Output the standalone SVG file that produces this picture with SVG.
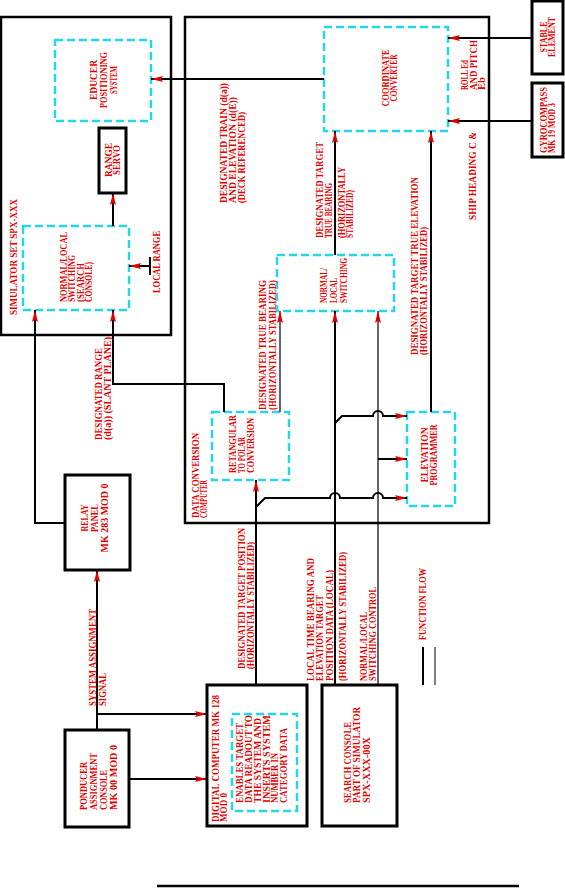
<svg xmlns="http://www.w3.org/2000/svg" width="565" height="895" viewBox="0 0 565 895">
<defs>
<style>
.t{font-family:"Liberation Serif","DejaVu Serif",serif;font-weight:bold;font-size:10px;fill:#e00000;}
.frame{fill:none;stroke:#000;stroke-width:2.5;}
.box{fill:none;stroke:#000;stroke-width:3;}
.dash{fill:none;stroke:#22d8e8;stroke-width:2.5;stroke-dasharray:8 4;}
.c{fill:none;stroke:#000;stroke-width:2;}
.ct{fill:none;stroke:#000;stroke-width:1.2;}
.ca{marker-end:url(#ah);}
</style>
<marker id="ah" viewBox="0 0 12 6" refX="12" refY="3" markerWidth="12" markerHeight="6" orient="auto" markerUnits="userSpaceOnUse">
<path d="M0,0 L12,3 L0,6 L2,3 z" fill="#e00000"/>
</marker>
</defs>

<g id="simulator-set">
<rect class="frame" x="1" y="17" width="170" height="318"/>
<text class="t" transform="translate(17,315) rotate(-90)" textLength="116" lengthAdjust="spacingAndGlyphs">SIMULATOR SET SPX-XXX</text>
</g>

<g id="data-conversion-computer">
<rect class="frame" x="185" y="17" width="304" height="506"/>
<text class="t" transform="translate(199,518) rotate(-90)"><tspan x="0" y="0" textLength="85" lengthAdjust="spacingAndGlyphs">DATA CONVERSION</tspan><tspan x="0" y="8" textLength="38" lengthAdjust="spacingAndGlyphs">COMPUTER</tspan></text>
</g>

<g id="eductor-positioning-system">
<rect class="dash" x="55" y="40" width="96" height="81"/>
<text class="t" text-anchor="middle" transform="translate(97,80) rotate(-90)"><tspan x="0" y="0" textLength="40" lengthAdjust="spacingAndGlyphs">EDUCER</tspan><tspan x="0" y="10" textLength="56" lengthAdjust="spacingAndGlyphs">POSITIONING</tspan><tspan x="0" y="20" textLength="28" lengthAdjust="spacingAndGlyphs">SYSTEM</tspan></text>
</g>

<g id="range-servo">
<rect class="box" x="99" y="128" width="27" height="65"/>
<text class="t" text-anchor="middle" transform="translate(112,160) rotate(-90)"><tspan x="0" y="0" textLength="34" lengthAdjust="spacingAndGlyphs">RANGE</tspan><tspan x="0" y="8" textLength="30" lengthAdjust="spacingAndGlyphs">SERVO</tspan></text>
</g>

<g id="normal-local-search-console">
<rect class="dash" x="23" y="226" width="106" height="84"/>
<text class="t" transform="translate(67,302) rotate(-90)"><tspan x="0" y="0" textLength="70" lengthAdjust="spacingAndGlyphs">NORMAL/LOCAL</tspan><tspan x="0" y="8" textLength="47" lengthAdjust="spacingAndGlyphs">SWITCHING</tspan><tspan x="0" y="16.5" textLength="39" lengthAdjust="spacingAndGlyphs">(SEARCH</tspan><tspan x="0" y="25" textLength="40" lengthAdjust="spacingAndGlyphs">CONSOLE)</tspan></text>
</g>

<g id="local-range">
<text class="t" transform="translate(160,293) rotate(-90)" textLength="62" lengthAdjust="spacingAndGlyphs">LOCAL RANGE</text>
</g>

<g id="coordinate-converter">
<rect class="dash" x="324" y="27" width="124" height="104"/>
<text class="t" text-anchor="middle" transform="translate(389,78) rotate(-90)"><tspan x="0" y="0" textLength="57" lengthAdjust="spacingAndGlyphs">COORDINATE</tspan><tspan x="0" y="8" textLength="47" lengthAdjust="spacingAndGlyphs">CONVERTER</tspan></text>
</g>

<g id="stable-element">
<rect class="box" x="532" y="1" width="31" height="73"/>
<text class="t" text-anchor="middle" transform="translate(547,37) rotate(-90)"><tspan x="0" y="0" textLength="31" lengthAdjust="spacingAndGlyphs">STABLE</tspan><tspan x="0" y="8" textLength="40" lengthAdjust="spacingAndGlyphs">ELEMENT</tspan></text>
</g>

<g id="gyrocompass">
<rect class="box" x="532" y="83" width="31" height="74"/>
<text class="t" transform="translate(547,153) rotate(-90)"><tspan x="0" y="0" textLength="66" lengthAdjust="spacingAndGlyphs">GYROCOMPASS</tspan><tspan x="0" y="8" textLength="50" lengthAdjust="spacingAndGlyphs">MK 19 MOD 3</tspan></text>
</g>

<g id="normal-local-switching">
<rect class="dash" x="277" y="255" width="117" height="56"/>
<text class="t" transform="translate(327,303) rotate(-90)"><tspan x="0" y="0" textLength="35" lengthAdjust="spacingAndGlyphs">NORMAL/</tspan><tspan x="0" y="10" textLength="25" lengthAdjust="spacingAndGlyphs">LOCAL</tspan><tspan x="0" y="20" textLength="45" lengthAdjust="spacingAndGlyphs">SWITCHING</tspan></text>
</g>

<g id="rectangular-to-polar">
<rect class="dash" x="212" y="412" width="77" height="68"/>
<text class="t" transform="translate(236,473) rotate(-90)"><tspan x="0" y="0" textLength="58" lengthAdjust="spacingAndGlyphs">RETANGULAR</tspan><tspan x="0" y="9" textLength="36" lengthAdjust="spacingAndGlyphs">TO POLAR</tspan><tspan x="0" y="18" textLength="55" lengthAdjust="spacingAndGlyphs">CONVERSION</tspan></text>
</g>

<g id="elevation-programmer">
<rect class="dash" x="407" y="412" width="48" height="94"/>
<text class="t" text-anchor="middle" transform="translate(428,455) rotate(-90)"><tspan x="0" y="0" textLength="55" lengthAdjust="spacingAndGlyphs">ELEVATION</tspan><tspan x="0" y="9" textLength="61" lengthAdjust="spacingAndGlyphs">PROGRAMMER</tspan></text>
</g>

<g id="relay-panel">
<rect class="box" x="65" y="475" width="65" height="95"/>
<text class="t" text-anchor="middle" transform="translate(88,518) rotate(-90)"><tspan x="0" y="0" textLength="27" lengthAdjust="spacingAndGlyphs">RELAY</tspan><tspan x="0" y="10" textLength="28" lengthAdjust="spacingAndGlyphs">PANEL</tspan><tspan x="0" y="20" textLength="69" lengthAdjust="spacingAndGlyphs">MK 283 MOD 0</tspan></text>
</g>

<g id="ponducer-assignment-console">
<rect class="box" x="65" y="730" width="64" height="97"/>
<text class="t" transform="translate(87,810) rotate(-90)"><tspan x="0" y="0" textLength="48" lengthAdjust="spacingAndGlyphs">PONDUCER</tspan><tspan x="0" y="10" textLength="57" lengthAdjust="spacingAndGlyphs">ASSIGNMENT</tspan><tspan x="0" y="20" textLength="40" lengthAdjust="spacingAndGlyphs">CONSOLE</tspan><tspan x="0" y="30" textLength="65" lengthAdjust="spacingAndGlyphs">MK 00 MOD 0</tspan></text>
</g>

<g id="digital-computer">
<rect class="box" x="207" y="685" width="100" height="141"/>
<text class="t" transform="translate(219,822) rotate(-90)"><tspan x="0" y="0" textLength="127" lengthAdjust="spacingAndGlyphs">DIGITAL COMPUTER MK 128</tspan><tspan x="0" y="8" textLength="29" lengthAdjust="spacingAndGlyphs">MOD 0</tspan></text>
<rect class="dash" x="232" y="714" width="65" height="97"/>
<text class="t" transform="translate(243,803) rotate(-90)"><tspan x="0" y="0" textLength="80" lengthAdjust="spacingAndGlyphs">ENABLES TARGET</tspan><tspan x="0" y="9" textLength="88" lengthAdjust="spacingAndGlyphs">DATA READOUT TO</tspan><tspan x="0" y="18" textLength="85" lengthAdjust="spacingAndGlyphs">THE SYSTEM AND</tspan><tspan x="0" y="27" textLength="88" lengthAdjust="spacingAndGlyphs">INSERTS SYSTEM</tspan><tspan x="0" y="35" textLength="50" lengthAdjust="spacingAndGlyphs">NUMBER IN</tspan><tspan x="0" y="44" textLength="75" lengthAdjust="spacingAndGlyphs">CATEGORY DATA</tspan></text>
</g>

<g id="search-console">
<rect class="box" x="322" y="685" width="75" height="141"/>
<text class="t" transform="translate(351,803) rotate(-90)"><tspan x="0" y="0" textLength="81" lengthAdjust="spacingAndGlyphs">SEARCH CONSOLE</tspan><tspan x="0" y="9" textLength="96" lengthAdjust="spacingAndGlyphs">PART OF SIMULATOR</tspan><tspan x="0" y="19" textLength="66" lengthAdjust="spacingAndGlyphs">SPX-XXX-00X</tspan></text>
</g>

<g id="legend">
<text class="t" transform="translate(426,640) rotate(-90)" textLength="72" lengthAdjust="spacingAndGlyphs">FUNCTION FLOW</text>
<line x1="423" y1="647" x2="423" y2="685" stroke="#000" stroke-width="2"/>
<line x1="435" y1="647" x2="435" y2="685" stroke="#000" stroke-width="1"/>
</g>

<g id="connectors">
<path class="c ca" d="M324,79 H151"/>
<path class="c ca" d="M532,38 H448"/>
<path class="c ca" d="M532,121 H448"/>
<path class="c ca" d="M113,226 V193"/>
<path class="c" d="M150,257 V275"/>
<path class="c ca" d="M150,266 H129"/>
<path class="c ca" d="M224,412 V384 H113 V310"/>
<path class="c ca" d="M65,523 H35 V310"/>
<path class="c ca" d="M97,730 V570"/>
<path class="c ca" d="M97,714 H207"/>
<path class="c ca" d="M129,779 H207"/>
<path class="c ca" d="M256,685 V480"/>
<path class="c ca" d="M256,507 L265,498 H330 A5,5 0 0 1 340,498 H373 A5,5 0 0 1 383,498 H407"/>
<path class="ct ca" d="M280,412 V311"/>
<path class="c ca" d="M335,685 V311"/>
<path class="c ca" d="M335,255 V131"/>
<path class="ct ca" d="M378,685 V311"/>
<path class="c ca" d="M335,423 L342,416 H373 A5,5 0 0 1 383,416 H407"/>
<path class="c ca" d="M378,459 H407"/>
<path class="c ca" d="M431,412 V131"/>
<line x1="157" y1="886" x2="519" y2="886" stroke="#000" stroke-width="2.5"/>
</g>

<g id="labels">
<text class="t" transform="translate(227,203) rotate(-90)"><tspan x="0" y="0" textLength="120" lengthAdjust="spacingAndGlyphs">DESIGNATED TRAIN (d(a))</tspan><tspan x="0" y="9" textLength="106" lengthAdjust="spacingAndGlyphs">AND ELEVATION (d(E))</tspan><tspan x="0" y="18" textLength="91" lengthAdjust="spacingAndGlyphs">(DECK REFERENCED)</tspan></text>
<text class="t" transform="translate(323,238) rotate(-90)"><tspan x="0" y="0" textLength="96" lengthAdjust="spacingAndGlyphs">DESIGNATED TARGET</tspan><tspan x="0" y="9" textLength="55" lengthAdjust="spacingAndGlyphs">TRUE BEARING</tspan><tspan x="0" y="22" textLength="71" lengthAdjust="spacingAndGlyphs">(HORIZONTALLY</tspan><tspan x="0" y="30" textLength="48" lengthAdjust="spacingAndGlyphs">STABILIZED)</tspan></text>
<text class="t" transform="translate(468,90) rotate(-90)"><tspan x="0" y="0" textLength="30" lengthAdjust="spacingAndGlyphs">ROLL Ed</tspan><tspan x="0" y="9" textLength="50" lengthAdjust="spacingAndGlyphs">AND PITCH</tspan><tspan x="0" y="17" textLength="13" lengthAdjust="spacingAndGlyphs">Eb</tspan></text>
<text class="t" transform="translate(476,220) rotate(-90)" textLength="88" lengthAdjust="spacingAndGlyphs">SHIP HEADING C &amp;</text>
<text class="t" transform="translate(418,355) rotate(-90)"><tspan x="0" y="0" textLength="178" lengthAdjust="spacingAndGlyphs">DESIGNATED TARGET TRUE ELEVATION</tspan><tspan x="0" y="9" textLength="128" lengthAdjust="spacingAndGlyphs">(HORIZONTALLY STABILIZED)</tspan></text>
<text class="t" transform="translate(266,410) rotate(-90)"><tspan x="0" y="0" textLength="130" lengthAdjust="spacingAndGlyphs">DESIGNATED TRUE BEARING</tspan><tspan x="0" y="10" textLength="130" lengthAdjust="spacingAndGlyphs">(HORIZONTALLY STABILIZED)</tspan></text>
<text class="t" transform="translate(102,440) rotate(-90)"><tspan x="0" y="0" textLength="92" lengthAdjust="spacingAndGlyphs">DESIGNATED RANGE</tspan><tspan x="0" y="9" textLength="103" lengthAdjust="spacingAndGlyphs">(d(a)) (SLANT PLANE)</tspan></text>
<text class="t" transform="translate(96,706) rotate(-90)"><tspan x="0" y="0" textLength="97" lengthAdjust="spacingAndGlyphs">SYSTEM ASSIGNMENT</tspan><tspan x="0" y="10" textLength="33" lengthAdjust="spacingAndGlyphs">SIGNAL</tspan></text>
<text class="t" transform="translate(245,669) rotate(-90)"><tspan x="0" y="0" textLength="141" lengthAdjust="spacingAndGlyphs">DESIGNATED TARGET POSITION</tspan><tspan x="0" y="9" textLength="127" lengthAdjust="spacingAndGlyphs">(HORIZONTALLY STABILIZED)</tspan></text>
<text class="t" transform="translate(314,681) rotate(-90)"><tspan x="0" y="0" textLength="123" lengthAdjust="spacingAndGlyphs">LOCAL TIME BEARING AND</tspan><tspan x="0" y="9" textLength="86" lengthAdjust="spacingAndGlyphs">ELEVATION TARGET</tspan><tspan x="0" y="19" textLength="111" lengthAdjust="spacingAndGlyphs">POSITION DATA (LOCAL)</tspan></text>
<text class="t" transform="translate(346,681) rotate(-90)" textLength="129" lengthAdjust="spacingAndGlyphs">(HORIZONTALLY STABILIZED)</text>
<text class="t" transform="translate(367,681) rotate(-90)"><tspan x="0" y="0" textLength="69" lengthAdjust="spacingAndGlyphs">NORMAL/LOCAL</tspan><tspan x="0" y="9" textLength="94" lengthAdjust="spacingAndGlyphs">SWITCHING CONTROL</tspan></text>
</g>
</svg>
